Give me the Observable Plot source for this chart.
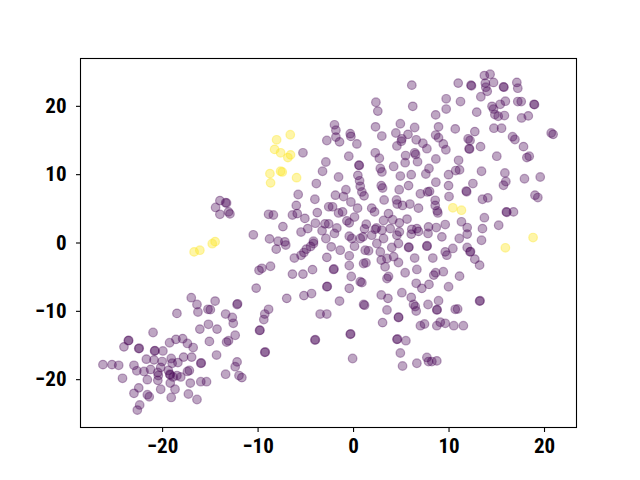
<!DOCTYPE html>
<html>
<head>
<meta charset="utf-8">
<script src="https://cdn.jsdelivr.net/npm/d3@7"></script>
<script src="https://cdn.jsdelivr.net/npm/@observablehq/plot@0.6"></script>
<style>
html,body{margin:0;padding:0;background:#fff;}
</style>
</head>
<body>
<div id="chart"></div>
<script>
const xTicks = [-20, -10, 0, 10, 20];
const yTicks = [-20, -10, 0, 10, 20];
const purpleColor = "#440154";
const yellowColor = "#fde725";

// class 0 points (purple)
const purplePoints = [
[-2.8,15.0],[-5.3,13.2],[-2.9,11.85],[-3.25,10.5],[-3.9,8.7],[-5.8,7.1],[-4.05,6.4],[-6.0,5.5],
[-14.0,6.2],[-13.4,5.9],[-13.3,5.85],[-14.45,5.2],[-13.1,4.55],[-12.95,4.26],[-14.0,4.2],
[-8.9,4.2],[-8.4,4.1],[-6.4,4.1],[-5.9,4.3],[-5.1,3.6],[-3.8,4.45],[-4.0,2.9],[-2.6,2.8],[-3.0,2.8],
[-7.4,2.4],[-4.8,2.1],[-5.5,1.6],[-3.3,1.8],[-10.5,1.2],[-8.8,0.6],[-7.9,0.26],[-7.2,0.17],[-4.2,0.26],[-2.9,0.66],
[-8.1,-0.9],[-7.1,-0.3],[-6.2,-2.2],[-5.5,-1.8],[-5.2,-1.4],[-4.95,-0.9],[-4.5,-0.5],[-4.2,-0.07],[-2.8,-2.1],
[-9.9,-4.0],[-9.6,-3.7],[-8.7,-3.4],[-6.4,-4.55],[-5.3,-4.55],[-4.3,-3.9],[-10.2,-6.6],[-2.8,-6.4],[-2.75,-6.35],
[-7.0,-8.1],[-5.2,-7.7],[-4.4,-7.4],[-14.5,-8.5],[-15.25,-9.7],[-15.0,-9.75],[-12.2,-9.0],[-12.15,-8.9],[-8.9,-9.7],
[-9.3,-10.4],[-9.4,-11.2],[-13.4,-10.4],[-12.7,-10.9],[-12.6,-11.75],[-3.5,-10.4],[-2.8,-10.4],[-15.2,-11.9],[-14.3,-12.6],
[-9.85,-12.8],[-9.8,-12.75],[-4.05,-14.2],[-4.0,-14.15],[-15.1,-14.4],[-13.3,-14.5],[-13.1,-14.3],[-12.4,-13.5],
[-9.3,-16.0],[-9.25,-15.95],[-14.35,-16.4],[-12.2,-17.4],[-12.4,-18.1],[-13.4,-19.2],[-12.0,-19.4],[-11.7,-19.7],[-15.4,-20.3],
[-17.0,-8.0],[-16.4,-9.0],[-16.3,-10.1],[-18.5,-10.3],[-16.1,-12.6],[-21.0,-13.1],[-23.6,-14.3],[-23.55,-14.25],
[-24.05,-15.2],[-22.5,-15.45],[-22.45,-15.4],[-20.84,-15.8],[-20.8,-15.75],[-19.97,-15.8],
[-19.27,-14.6],[-18.6,-14.1],[-17.9,-14.0],[-17.4,-14.7],[-16.8,-15.3],[-21.7,-17.0],[-20.9,-17.1],
[-20.05,-17.35],[-20.2,-18.2],[-19.1,-16.9],[-19.0,-17.6],[-18.4,-17.5],[-17.8,-16.7],[-16.96,-16.7],
[-16.0,-17.6],[-15.95,-17.55],[-26.25,-17.8],[-25.3,-17.8],[-24.6,-17.9],[-23.0,-17.9],[-22.7,-18.7],
[-21.95,-18.8],[-21.26,-18.5],[-20.5,-18.95],[-20.45,-19.4],[-19.4,-18.65],[-19.2,-19.3],[-19.25,-19.2],[-18.9,-19.6],
[-18.5,-19.4],[-18.1,-19.6],[-17.4,-18.8],[-17.2,-18.65],[-24.2,-19.8],[-21.6,-20.0],[-20.5,-20.1],[-19.2,-20.5],
[-17.1,-20.5],[-16.0,-20.3],[-22.5,-21.2],[-23.0,-22.0],[-20.2,-21.4],[-18.7,-21.4],[-21.6,-22.2],[-21.4,-22.5],
[-17.3,-22.1],[-19.1,-22.6],[-16.4,-22.9],[-22.4,-23.7],[-22.65,-24.45],
[6.1,23.1],[2.34,20.6],[2.54,19.3],[6.2,20.0],[9.7,21.1],[9.7,19.6],[8.6,18.75],
[-2.0,17.3],[-1.85,16.5],[-1.85,15.5],[-1.47,14.8],[-0.35,16.0],[-0.28,15.6],[0.35,14.5],[2.3,17.0],[2.96,15.65],
[4.9,17.45],[4.43,16.1],[5.06,15.25],[5.7,15.9],[6.4,16.9],[4.54,14.2],[5.0,14.9],[6.56,15.1],[7.26,14.6],[7.68,13.8],
[8.6,15.8],[8.9,15.4],[9.4,14.5],[9.67,13.65],[8.9,17.0],[10.65,16.7],[-0.5,12.7],[2.27,13.2],[2.7,12.4],
[0.56,11.4],[0.6,11.35],[5.45,12.8],[6.4,13.2],[6.5,12.96],[5.4,11.75],[6.7,11.9],[8.62,12.3],[4.2,11.2],
[2.8,10.9],[2.97,10.4],[7.9,10.9],[7.57,10.1],[-1.57,9.66],[0.45,9.9],[0.63,9.1],[0.7,8.3],[0.87,7.47],[1.1,6.9],
[4.9,9.8],[6.04,10.0],[2.9,8.4],[3.04,8.05],[5.76,8.4],[4.78,7.8],[7.0,7.2],[7.75,7.47],[7.96,7.56],[8.62,8.9],
[9.95,10.0],[9.95,8.4],[10.0,6.8],[-1.9,7.0],[-0.8,7.8],[-1.05,6.8],[-0.28,6.0],[-2.6,5.3],[-2.2,5.3],
[-1.57,4.4],[-1.15,4.55],[0.42,5.1],[-0.7,3.24],[-0.45,2.95],[0.1,3.8],[1.9,5.1],[2.2,4.55],[3.2,6.3],
[4.5,6.3],[4.57,5.7],[5.13,5.5],[5.9,5.7],[6.8,5.1],[8.55,6.25],[8.55,5.5],[8.76,4.7],[8.83,4.4],
[3.66,4.3],[4.1,3.4],[4.8,2.95],[5.6,3.5],[3.14,3.3],[1.33,2.75],[1.15,2.07],[0.98,0.9],[2.27,2.0],[2.4,2.2],
[2.97,1.87],[3.14,0.66],[3.84,2.1],[1.9,1.14],[4.8,1.63],[4.54,1.14],[6.1,2.0],[6.63,2.1],[6.8,1.7],
[7.85,2.36],[8.66,2.26],[9.6,2.7],[6.04,1.3],[7.8,1.4],[9.25,0.9],[-2.0,1.4],[-1.75,2.2],[-0.45,1.0],[-0.18,0.66],[0.7,0.66],
[-2.34,-0.56],[-1.4,-1.05],[-0.45,-1.87],[0.1,-0.47],[1.22,-1.05],[1.57,-1.14],[2.44,-0.07],[2.8,-1.3],[2.9,-2.5],
[3.5,-2.26],[4.0,-0.66],[4.2,-2.0],[4.7,-0.07],[4.7,-2.85],[5.76,-0.66],[5.8,-0.6],[6.4,-2.2],[6.63,-3.87],
[7.68,-0.47],[7.7,-0.4],[8.3,-2.2],[9.6,-1.3],[9.77,-1.78],[-2.1,-3.87],[-2.05,-3.8],[-0.45,-3.3],[-0.24,-4.9],
[-0.45,-6.64],[0.7,-5.66],[0.87,-5.8],[1.05,-3.0],[1.3,-2.9],[3.3,-3.48],[3.5,-5.2],[3.66,-4.9],[5.4,-4.35],
[5.06,-7.27],[6.56,-5.9],[7.15,-6.64],[7.9,-6.06],[8.4,-4.7],[8.6,-4.35],[9.4,-4.2],[9.95,-6.4],[-1.47,-8.5],
[1.05,-9.0],[1.15,-9.1],[2.9,-7.6],[3.6,-8.1],[3.5,-9.8],[3.04,-11.65],[4.7,-10.9],[4.72,-10.85],[6.04,-7.96],
[6.28,-9.0],[6.46,-9.3],[6.56,-9.95],[7.8,-9.0],[8.9,-8.45],[8.72,-9.8],[8.75,-9.75],[7.0,-12.1],[7.43,-11.85],
[8.72,-12.1],[9.08,-11.6],[9.6,-11.75],[-0.35,-13.36],[-0.3,-13.3],[4.54,-14.1],[4.6,-14.05],[5.48,-14.3],
[4.9,-16.1],[-0.1,-16.9],[5.13,-18.0],[6.63,-17.6],[7.68,-16.75],[7.85,-17.35],[8.2,-17.35],[8.72,-17.25],
[13.7,24.5],[14.3,24.7],[10.96,23.4],[12.3,23.1],[12.35,23.0],[13.8,23.4],[13.85,22.8],[14.66,23.5],
[15.7,22.85],[15.75,22.8],[17.1,23.5],[17.2,22.65],[14.0,22.2],[13.33,21.4],[11.2,20.7],[14.5,20.0],[14.66,19.6],
[15.9,20.75],[15.36,20.3],[17.2,20.7],[17.56,20.7],[18.9,20.3],[18.95,20.25],[12.9,19.15],[14.8,18.8],[15.15,18.55],
[15.8,18.65],[17.6,18.3],[18.3,18.6],[12.7,16.3],[14.7,16.8],[15.5,16.8],[20.7,16.1],[20.9,15.9],[16.65,15.55],
[16.9,15.15],[12.0,15.25],[12.2,15.0],[12.1,13.8],[12.15,13.75],[13.3,14.1],[17.8,14.1],[15.0,12.7],[18.15,12.5],
[18.4,12.7],[11.0,12.1],[10.7,10.6],[11.1,10.7],[13.4,10.5],[15.85,10.25],[15.95,9.0],[15.7,8.45],[17.9,9.4],
[19.55,9.66],[12.5,8.7],[11.8,7.6],[11.85,7.5],[13.5,6.4],[14.06,6.6],[19.0,7.0],[19.3,6.65],[13.7,3.7],
[16.0,4.55],[16.05,4.5],[16.75,4.55],[11.3,3.1],[11.9,2.26],[11.9,1.3],[11.07,0.66],[13.5,2.1],[15.2,2.6],[13.4,0.4],
[10.4,-0.8],[11.9,-0.66],[12.2,-1.3],[12.25,-1.25],[12.7,-2.36],[13.2,-3.24],[11.1,-4.85],[13.2,-8.5],[13.25,-8.45],
[10.65,-9.7],[10.9,-9.66],[10.5,-12.1],[11.5,-12.1]
];

// class 1 points (yellow)
const yellowPoints = [
[-6.63,15.84],[-8.06,15.1],[-8.27,13.7],[-7.64,13.2],[-6.6,12.9],[-6.88,12.5],[-8.76,10.15],
[-7.64,10.5],[-7.47,10.4],[-5.97,9.56],[-8.69,8.8],[-14.8,-0.1],[-14.5,0.2],[-16.7,-1.3],[-16.1,-1.05],
[10.4,5.15],[11.3,4.8],[18.8,0.8],[15.9,-0.7]
];

const fmt = d => d < 0 ? "\u2212" + Math.abs(d) : String(d);
const axisFont = {fontSize: 21, fontWeight: "bold", fontFamily: "'Liberation Sans Narrow', 'Roboto Condensed', Roboto, sans-serif"};

const chart = Plot.plot({
  width: 640,
  height: 480,
  marginLeft: 80,
  marginRight: 64,
  marginTop: 58,
  marginBottom: 53,
  style: {background: "#fff", fontFamily: "Roboto, sans-serif", color: "#000"},
  x: {domain: [-28.6, 23.35], label: null},
  y: {domain: [-27, 27], label: null},
  marks: [
    Plot.dot(purplePoints, {x: d => d[0], y: d => d[1], r: 4.3, fill: purpleColor, stroke: purpleColor,
      fillOpacity: 0.35, strokeOpacity: 0.35, strokeWidth: 1.2}),
    Plot.dot(yellowPoints, {x: d => d[0], y: d => d[1], r: 4.3, fill: yellowColor, stroke: yellowColor,
      fillOpacity: 0.4, strokeOpacity: 0.4, strokeWidth: 1.2}),
    Plot.frame({stroke: "#000", strokeWidth: 1.1}),
    Plot.axisX({ticks: xTicks, tickFormat: fmt, tickSize: 5, tickPadding: 6, strokeWidth: 1.1, ...axisFont, label: null}),
    Plot.axisY({ticks: yTicks, tickFormat: fmt, tickSize: 4, tickPadding: 10, strokeWidth: 1.1, ...axisFont, label: null})
  ]
});
document.getElementById("chart").appendChild(chart);
</script>
</body>
</html>
